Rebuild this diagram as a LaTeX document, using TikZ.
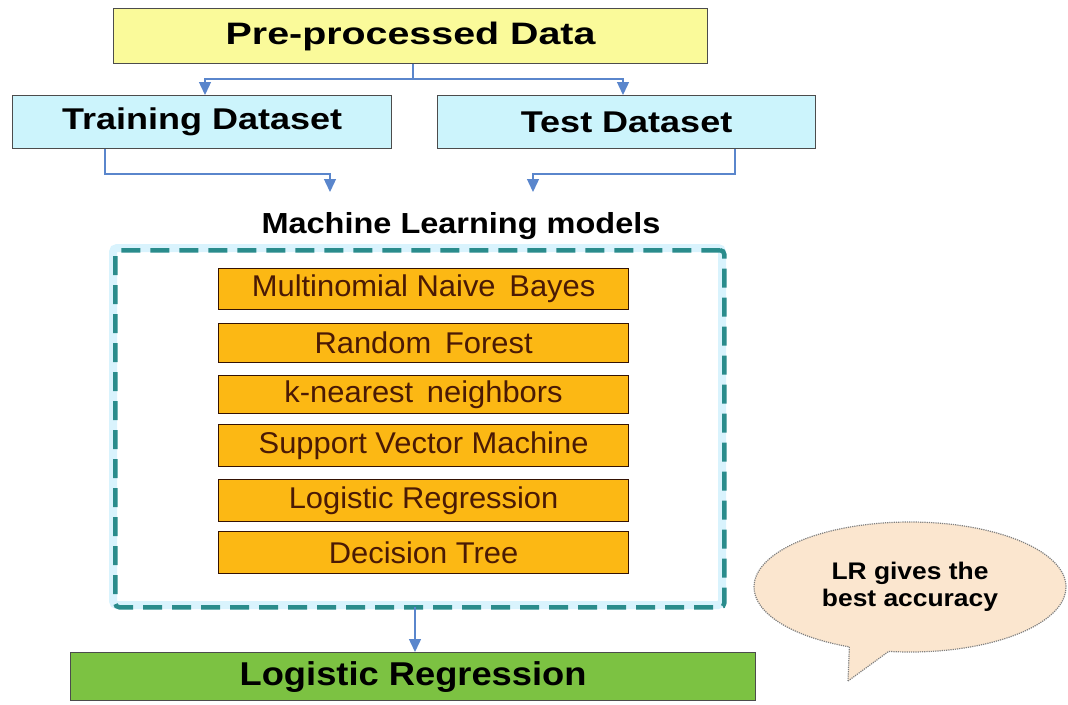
\documentclass[tikz,border=0pt]{standalone}
\usepackage{fontspec}
\usepackage{graphicx}
\setmainfont{Liberation Sans}
\usetikzlibrary{arrows.meta,shapes.callouts}
\definecolor{yel}{HTML}{FAFA9A}
\definecolor{cyn}{HTML}{CCF4FC}
\definecolor{org}{HTML}{FCB814}
\definecolor{grn}{HTML}{7CC242}
\definecolor{arr}{HTML}{5A86CC}
\definecolor{teal}{HTML}{2A8C8C}
\definecolor{peach}{HTML}{FBE6CF}
\definecolor{brn}{HTML}{4A1A05}
\newcommand{\wide}[2]{\scalebox{#1}[1]{#2}}
\tikzset{
  box/.style={draw=black!70,line width=1.2pt,inner sep=0pt,anchor=north west},
  modelbox/.style={box,fill=org,draw=brn!70!black},
  modeltext/.style={font=\fontsize{30}{32}\selectfont,text=brn},
  conn/.style={draw=arr,line width=1.4pt},
  arrowc/.style={conn,-{Triangle[width=12pt,length=13pt,fill=arr]}},
}
\begin{document}
\begin{tikzpicture}[x=1pt,y=-1pt]
\useasboundingbox (0,0) rectangle (1068,704);
% top box
\node[box,fill=yel,minimum width=594pt,minimum height=55pt] (pre) at (113,8) {};
\node[font=\bfseries\fontsize{31}{33}\selectfont] at (pre.center) {\wide{1.27}{Pre-processed Data}};
\node[box,fill=cyn,minimum width=379pt,minimum height=53pt] (train) at (12,95) {};
\node[font=\bfseries\fontsize{30}{32}\selectfont] at (train.center) {\wide{1.2}{Training Dataset}};
\node[box,fill=cyn,minimum width=378pt,minimum height=53pt] (test) at (437,95) {};
\node[font=\bfseries\fontsize{30}{32}\selectfont] at (test.center) {\wide{1.2}{Test Dataset}};
% connectors from pre
\coordinate (j) at (413,79);
\draw[conn] (pre.south -| j) -- (j);
\draw[arrowc] (j) -| (205,95);
\draw[arrowc] (j) -| (623,95);
% ML title
\node[font=\bfseries\fontsize{29}{31}\selectfont] (mltitle) at (461,226) {\wide{1.12}{Machine Learning models}};
\coordinate (inL) at (330,192);
\coordinate (inR) at (533,192);
\draw[arrowc] (train.south -| 105,0) |- (330,174) -- (inL);
\draw[arrowc] (test.south -| 735,0) |- (533,174) -- (inR);
% dashed box
\draw[cyan!15,line width=8pt,rounded corners=4pt] (113,248) rectangle (722,605);
\node[draw=teal,line width=4.5pt,dash pattern=on 19pt off 10pt,rounded corners=4pt,minimum width=609pt,minimum height=357pt,anchor=north west,inner sep=0pt] (ml) at (113,248) {};
% model boxes
\node[modelbox,minimum width=410pt,minimum height=41pt] (m1) at (218,268) {};
\node[modeltext] at (m1.center) {\wide{1.03}{Multinomial Naive\, Bayes}};
\node[modelbox,minimum width=410pt,minimum height=39pt] (m2) at (218,323) {};
\node[modeltext] at (m2.center) {\wide{1.03}{Random\, Forest}};
\node[modelbox,minimum width=410pt,minimum height=38pt] (m3) at (218,375) {};
\node[modeltext] at (m3.center) {\wide{1.03}{k-nearest\, neighbors}};
\node[modelbox,minimum width=410pt,minimum height=42pt] (m4) at (218,424) {};
\node[modeltext] at (m4.center) {\wide{1.03}{Support Vector Machine}};
\node[modelbox,minimum width=410pt,minimum height=42pt] (m5) at (218,479) {};
\node[modeltext] at (m5.center) {\wide{1.03}{Logistic Regression}};
\node[modelbox,minimum width=410pt,minimum height=42pt] (m6) at (218,531) {};
\node[modeltext] at (m6.center) {\wide{1.03}{Decision Tree}};
% result
\node[box,fill=grn,minimum width=685pt,minimum height=48pt] (lr) at (70,652) {};
\node[font=\bfseries\fontsize{33}{35}\selectfont] at (lr.center) {\wide{1.1}{Logistic Regression}};
\draw[arrowc] (415,607) -- (lr.north -| 415,0);
% callout
\node[ellipse callout,draw=gray,densely dotted,line width=1.2pt,fill=peach,minimum width=312pt,minimum height=130pt,callout absolute pointer={(848,681)},align=center,font=\bfseries\fontsize{24}{27}\selectfont,inner sep=0pt] (bub) at (910,587) {\wide{1.1}{LR gives the}\\\wide{1.1}{best accuracy}};
\end{tikzpicture}
\end{document}
